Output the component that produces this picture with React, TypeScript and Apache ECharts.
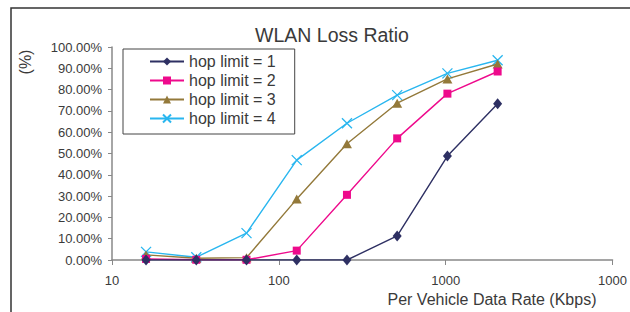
import React, { useEffect, useRef } from "react";
import * as echarts from "echarts";

const rates = [16, 32, 64, 128, 256, 512, 1024, 2048];
const hop1 = [0, 0, 0, 0, 0, 11.3, 48.8, 73.4];
const hop2 = [0.5, 0.1, 0.1, 4.4, 30.6, 57.1, 78.1, 88.5];
const hop3 = [2.4, 0.8, 1.1, 28.6, 54.6, 73.6, 85.0, 92.0];
const hop4 = [3.8, 1.3, 12.6, 46.9, 64.2, 77.4, 87.6, 93.8];
const seriesNames = ["hop limit = 1", "hop limit = 2", "hop limit = 3", "hop limit = 4"];
const xTickValues = [10, 100, 1000, 10000];
const xTickLabels = ["10", "100", "1000", "1000"];

const FONT = "'Liberation Sans', Arial, sans-serif";
const TXT = "#3a3a3a";

export default function App() {
  const ref = useRef<HTMLDivElement>(null);
  useEffect(() => {
    document.body.style.margin = "0";
    const chart = echarts.init(ref.current!, null, { renderer: "svg" });
    const mk = (vals: number[]) => rates.map((r, i) => [r, vals[i]]);
    const common = { type: "line", lineStyle: { width: 1.4 }, emphasis: { disabled: true } };
    chart.setOption({
      animation: false,
      textStyle: { fontFamily: FONT },
      title: {
        text: "WLAN Loss Ratio",
        left: 327,
        top: 20,
        textAlign: "center",
        textStyle: { fontSize: 19.5, fontWeight: "normal", color: TXT, fontFamily: FONT },
      },
      legend: {
        orient: "vertical",
        left: 123,
        top: 49,
        padding: [3, 19, 6, 26],
        itemGap: 0,
        itemWidth: 34,
        itemHeight: 10,
        borderColor: "#444",
        borderWidth: 1,
        backgroundColor: "#fff",
        textStyle: { fontSize: 16, lineHeight: 19, color: TXT, fontFamily: FONT },
        data: seriesNames,
      },
      grid: { left: 112, right: 13, top: 47, bottom: 52 },
      xAxis: {
        type: "log",
        logBase: 10,
        min: 10,
        max: 10000,
        axisLine: { lineStyle: { color: "#888", width: 1.5 } },
        axisTick: { show: true, inside: false, length: 5, lineStyle: { color: "#888" } },
        minorTick: { show: false },
        splitLine: { show: false },
        axisLabel: {
          margin: 14,
          fontSize: 13,
          color: TXT,
          fontFamily: FONT,
          formatter: (v: number) => {
            const i = xTickValues.findIndex((t) => Math.abs(t - v) < 1e-6 * t);
            return i >= 0 ? xTickLabels[i] : "";
          },
        },
      },
      yAxis: {
        type: "value",
        min: 0,
        max: 100,
        interval: 10,
        axisLine: { show: true, lineStyle: { color: "#888", width: 1.5 } },
        axisTick: { show: true, length: 4, lineStyle: { color: "#888" } },
        splitLine: { show: false },
        axisLabel: {
          margin: 10,
          fontSize: 13,
          color: TXT,
          fontFamily: FONT,
          formatter: (v: number) => v.toFixed(2) + "%",
        },
      },
      graphic: [
        {
          type: "rect",
          shape: { x: 11, y: 8, width: 800, height: 500 },
          style: { fill: "none", stroke: "#333", lineWidth: 1.5 },
          silent: true,
          z: -10,
        },
        {
          type: "text",
          x: 25,
          y: 62,
          rotation: Math.PI / 2,
          style: {
            text: "(%)",
            font: `16px ${FONT}`,
            fill: TXT,
            textAlign: "center",
            textVerticalAlign: "middle",
          },
        },
        {
          type: "text",
          x: 492,
          y: 299,
          style: {
            text: "Per Vehicle Data Rate (Kbps)",
            font: `16px ${FONT}`,
            fill: TXT,
            textAlign: "center",
            textVerticalAlign: "middle",
          },
        },
      ],
      series: [
        {
          ...common,
          name: seriesNames[0],
          data: mk(hop1),
          symbol: "diamond",
          symbolSize: [9, 11],
          color: "#2e3063",
          z: 5,
        },
        {
          ...common,
          name: seriesNames[1],
          data: mk(hop2),
          symbol: "rect",
          symbolSize: 8,
          color: "#ee0a8c",
          z: 4,
        },
        {
          ...common,
          name: seriesNames[2],
          data: mk(hop3),
          symbol: "triangle",
          symbolSize: [10, 9],
          color: "#93793a",
          z: 3,
        },
        {
          ...common,
          name: seriesNames[3],
          data: mk(hop4),
          symbol: "path://M0,0L10,10M10,0L0,10",
          symbolSize: 10,
          color: "#29b6ef",
          itemStyle: { borderColor: "#29b6ef", borderWidth: 1.3 },
          z: 2,
        },
      ],
    });
    return () => chart.dispose();
  }, []);
  return <div ref={ref} style={{ width: 630, height: 312 }} />;
}
